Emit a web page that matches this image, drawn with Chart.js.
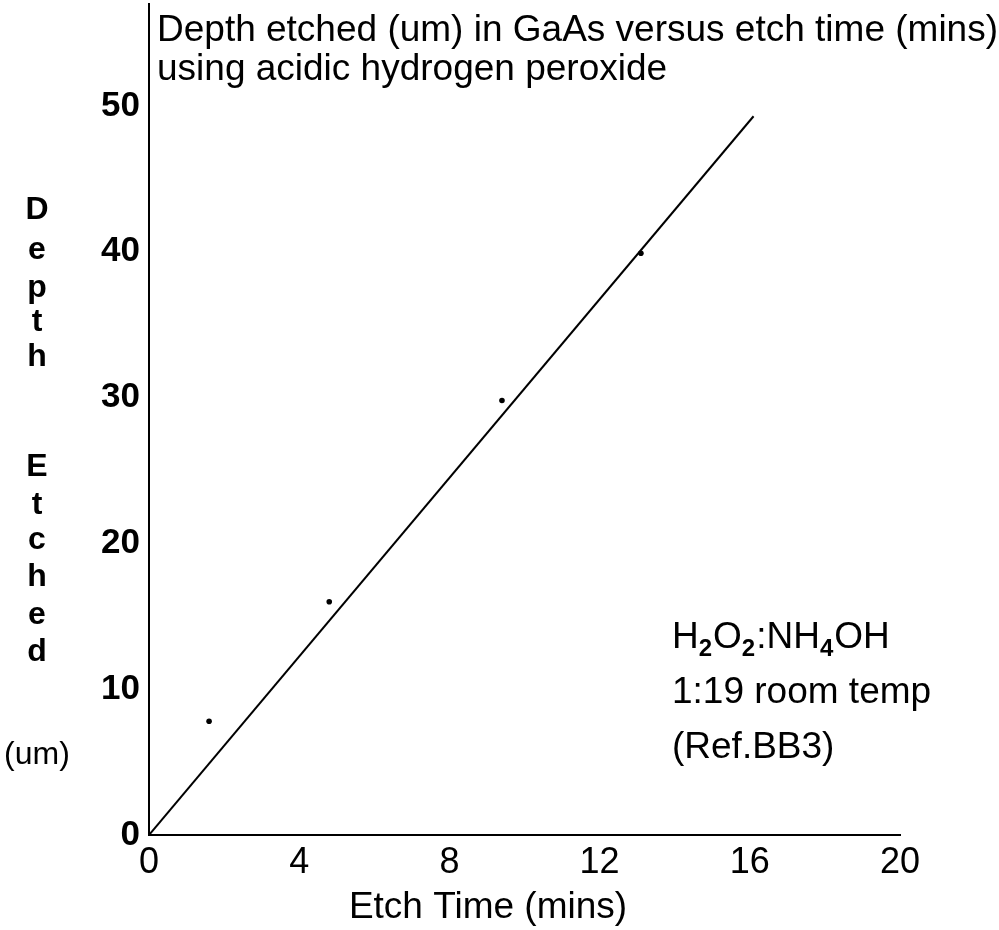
<!DOCTYPE html>
<html>
<head>
  <meta charset="utf-8" />
  <title>GaAs etch depth versus time</title>
  <script src="https://cdn.jsdelivr.net/npm/chart.js"></script>
  <style>
    body { margin: 0; background: #fff; }
    canvas { display: block; }
  </style>
</head>
<body>
  <canvas id="etchChart" width="999" height="930"></canvas>

  <script>
    // measured points: etch time (mins) and depth (um)
    const etchTimes = [1.6, 4.8, 9.4, 13.1];
    const etchDepths = [7.8, 16.0, 29.8, 39.9];

    // straight-line fit through the origin
    const fitTimes = [0, 16.1];
    const fitDepths = [0, 49.3];

    const xTicks = [0, 4, 8, 12, 16, 20];
    const yTicks = [0, 10, 20, 30, 40, 50];

    const titleLines = [
      'Depth etched (um) in GaAs versus etch time (mins)',
      'using acidic hydrogen peroxide'
    ];
    const xCaption = 'Etch Time (mins)';
    const yCaption = ['D', 'e', 'p', 't', 'h', 'E', 't', 'c', 'h', 'e', 'd', '(um)'];
    const noteLines = ['1:19 room temp', '(Ref.BB3)'];

    const FONT = '"Liberation Sans", Arial, Helvetica, sans-serif';

    // draws the chart title, the axis captions and the etchant note
    const captionPlugin = {
      id: 'captions',
      afterDraw(chart) {
        const ctx = chart.ctx;
        ctx.save();
        ctx.fillStyle = '#000';

        ctx.font = '37px ' + FONT;
        ctx.textAlign = 'left';
        ctx.textBaseline = 'alphabetic';
        ctx.fillText(titleLines[0], 157, 41);
        ctx.fillText(titleLines[1], 157, 80);

        // x caption sits a little left of the axis centre
        ctx.textAlign = 'center';
        ctx.fillText(xCaption, 488, 918);

        // letters of "Depth Etched (um)" stacked one per row
        const rows = [210, 250, 288, 322, 357, 467, 505, 540, 577, 615, 652, 755];
        ctx.font = 'bold 32px ' + FONT;
        ctx.textBaseline = 'middle';
        yCaption.forEach((ch, i) => {
          if (ch === '(um)') ctx.font = '32px ' + FONT;
          ctx.fillText(ch, 37, rows[i]);
        });

        // H2O2:NH4OH with subscripts
        const runs = [
          ['H', false], ['2', true], ['O', false], ['2', true],
          [':', false], ['NH', false], ['4', true], ['OH', false]
        ];
        let x = 672;
        const base = 648;
        ctx.textAlign = 'left';
        ctx.textBaseline = 'alphabetic';
        runs.forEach(([t, sub]) => {
          ctx.font = (sub ? 'bold 24px ' : '37px ') + FONT;
          ctx.fillText(t, x, sub ? base + 8 : base);
          x += ctx.measureText(t).width + (sub ? 1 : 0);
        });

        ctx.font = '37px ' + FONT;
        ctx.fillText(noteLines[0], 672, 703);
        ctx.fillText(noteLines[1], 672, 758);
        ctx.restore();
      }
    };

    const ctx = document.getElementById('etchChart').getContext('2d');
    const etchChart = new Chart(ctx, {
      type: 'scatter',
      data: {
        datasets: [
          {
            label: 'measured',
            data: etchTimes.map((t, i) => ({ x: t, y: etchDepths[i] })),
            backgroundColor: '#000',
            borderColor: '#000',
            pointRadius: 2.8,
            pointBorderWidth: 0
          },
          {
            label: 'fit',
            data: fitTimes.map((t, i) => ({ x: t, y: fitDepths[i] })),
            showLine: true,
            borderColor: '#000',
            borderWidth: 2,
            pointRadius: 0
          }
        ]
      },
      options: {
        responsive: false,
        animation: false,
        layout: { padding: { top: 0, right: 99, bottom: 0, left: 0 } },
        plugins: {
          legend: { display: false },
          tooltip: { enabled: false }
        },
        scales: {
          x: {
            type: 'linear',
            min: 0,
            max: 20,
            afterBuildTicks: (scale) => { scale.ticks = xTicks.map(v => ({ value: v })); },
            afterFit: (scale) => { scale.height = 95; scale.paddingLeft = 0; },
            grid: { display: false, drawTicks: false },
            border: { display: true, color: '#000', width: 2 },
            ticks: {
              color: '#000',
              padding: 6,
              maxRotation: 0,
              font: { family: FONT, size: 36 }
            }
          },
          y: {
            type: 'linear',
            min: 0,
            max: 57,
            afterBuildTicks: (scale) => { scale.ticks = yTicks.map(v => ({ value: v })); },
            afterFit: (scale) => {
              scale.width = 149;
              scale.paddingTop = 0;
              scale.paddingBottom = 0;
            },
            grid: { display: false, drawTicks: false },
            border: { display: true, color: '#000', width: 2 },
            ticks: {
              color: '#000',
              padding: 9,
              font: { family: FONT, size: 35, weight: 'bold' }
            }
          }
        }
      },
      plugins: [captionPlugin]
    });
  </script>
</body>
</html>
